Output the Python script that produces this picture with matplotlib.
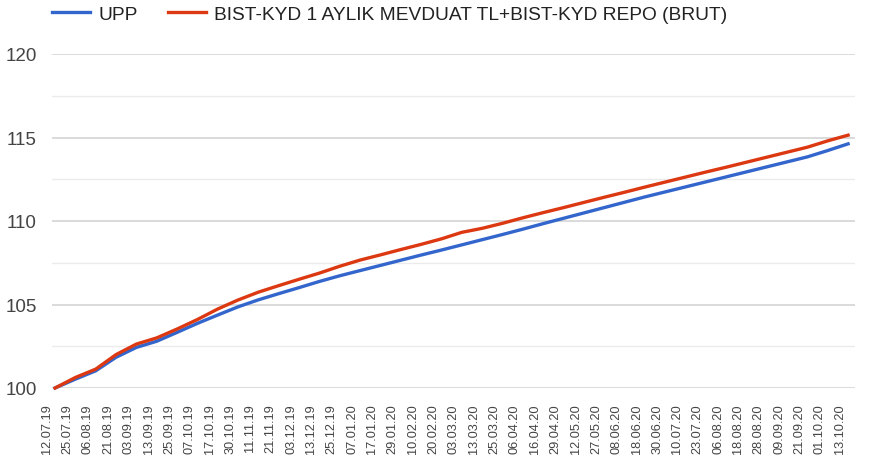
import numpy as np
import matplotlib.transforms as mtransforms
from matplotlib import pyplot as plt

# category labels (every 8th trading day)
dates = ['12.07.19', '25.07.19', '06.08.19', '21.08.19', '03.09.19', '13.09.19',
         '25.09.19', '07.10.19', '17.10.19', '30.10.19', '11.11.19', '21.11.19',
         '03.12.19', '13.12.19', '25.12.19', '07.01.20', '17.01.20', '29.01.20',
         '10.02.20', '20.02.20', '03.03.20', '13.03.20', '25.03.20', '06.04.20',
         '16.04.20', '29.04.20', '12.05.20', '27.05.20', '08.06.20', '18.06.20',
         '30.06.20', '10.07.20', '23.07.20', '06.08.20', '18.08.20', '28.08.20',
         '09.09.20', '21.09.20', '01.10.20', '13.10.20']

# UPP fund index
upp = [100.00, 100.53, 101.03, 101.84, 102.43, 102.80, 103.33, 103.87, 104.37, 104.86,
       105.28, 105.65, 106.01, 106.38, 106.72, 107.03, 107.34, 107.65, 107.96, 108.26,
       108.57, 108.88, 109.19, 109.51, 109.84, 110.16, 110.48, 110.80, 111.12, 111.44,
       111.74, 112.04, 112.34, 112.64, 112.94, 113.24, 113.54, 113.84, 114.22, 114.62]

# benchmark
bench = [100.00, 100.63, 101.13, 102.00, 102.63, 103.00, 103.53, 104.10, 104.73, 105.27,
         105.74, 106.13, 106.51, 106.88, 107.29, 107.66, 107.97, 108.29, 108.60, 108.93,
         109.32, 109.56, 109.86, 110.19, 110.50, 110.80, 111.11, 111.42, 111.72, 112.03,
         112.33, 112.63, 112.93, 113.22, 113.52, 113.82, 114.12, 114.42, 114.80, 115.14]

yticks = [100, 105, 110, 115, 120]
yminor = [102.5, 107.5, 112.5, 117.5]

plt.rcParams['font.family'] = ['Liberation Sans', 'DejaVu Sans']

fig = plt.figure(figsize=(8.69, 4.60), dpi=100)
ax = fig.add_axes([52/869, 1-389/460, (855-52)/869, (389-55)/460])

x = np.arange(len(dates))
ax.plot(x, upp, color='#3366cc', lw=2.4, label='UPP', clip_on=False, zorder=3)
ax.plot(x, bench, color='#dc3912', lw=2.4, clip_on=False, zorder=4,
        label='BIST-KYD 1 AYLIK MEVDUAT TL+BIST-KYD REPO (BRUT)')

ax.set_xlim(-0.15, 39.34)
ax.set_ylim(100, 120)

# grid
for v in yminor:
    ax.axhline(v, color='#ebebeb', lw=1, zorder=1)
for v in yticks:
    ax.axhline(v, color='#d4d4d4', lw=1.2, zorder=1)

ax.set_yticks(yticks)
ax.set_yticklabels([str(v) for v in yticks])
ax.set_xticks(x)
ax.set_xticklabels(dates, rotation=90)
ax.tick_params(axis='y', length=0, pad=11, labelsize=13.5, labelcolor='#444444')
ax.tick_params(axis='x', length=0, pad=11, labelsize=9.2, labelcolor='#444444')

# shift the rotated date labels a little to the left, like the original
off = mtransforms.ScaledTranslation(-8/100, 0, fig.dpi_scale_trans)
for lab in ax.get_xticklabels():
    lab.set_transform(lab.get_transform() + off)

for s in ax.spines.values():
    s.set_visible(False)

fig.legend(loc='center left', bbox_to_anchor=(52/869, 1-15/460), ncol=2,
           frameon=False, fontsize=13.8, handlelength=1.98, handletextpad=0.42,
           columnspacing=1.6, borderpad=0, borderaxespad=0,
           labelcolor='#222222')

plt.savefig('out.png', dpi=100)
